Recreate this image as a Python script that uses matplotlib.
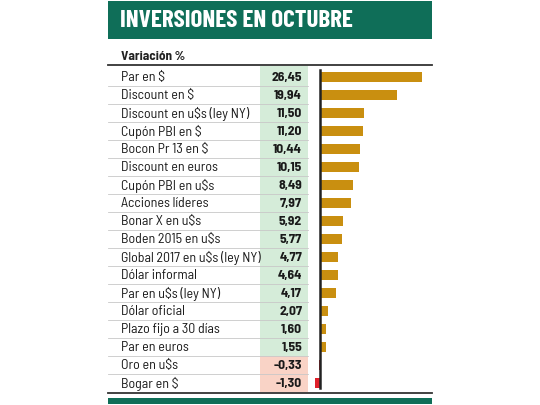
import matplotlib.pyplot as plt
import matplotlib.patches as mpatches

labels = ["Par en $", "Discount en $", "Discount en u$s (ley NY)", "Cupón PBI en $",
          "Bocon Pr 13 en $", "Discount en euros", "Cupón PBI en u$s", "Acciones líderes",
          "Bonar X en u$s", "Boden 2015 en u$s", "Global 2017 en u$s (ley NY)",
          "Dólar informal", "Par en u$s (ley NY)", "Dólar oficial", "Plazo fijo a 30 días",
          "Par en euros", "Oro en u$s", "Bogar en $"]
values = [26.45, 19.94, 11.50, 11.20, 10.44, 10.15, 8.49, 7.97, 5.92, 5.77, 4.77,
          4.64, 4.17, 2.07, 1.60, 1.55, -0.33, -1.30]

title = "INVERSIONES EN OCTUBRE"
subtitle = "Variación %"

green = "#0f6e58"
gold = "#c98f10"
red = "#e0202a"
cell_pos = "#d5ecd9"
cell_neg = "#f9d3c6"

narrow = ['Barlow Semi Condensed', 'DejaVu Sans']
narrow_bold = ['Barlow Condensed', 'DejaVu Sans']
plt.rcParams['font.family'] = narrow

W, H = 540, 405
fig = plt.figure(figsize=(5.4, 4.05), dpi=100)
fig.patch.set_facecolor("white")

# layout axes in pixel coordinates
ax = fig.add_axes([0, 0, 1, 1])
ax.set_xlim(0, W)
ax.set_ylim(H, 0)
ax.axis("off")

left, right = 108, 432
row_top, row_h = 68, 18
n = len(labels)

# header
ax.add_patch(mpatches.Rectangle((left, 1), right - left, 38, color=green, lw=0))
ax.text(120, 21, title, color="white", fontsize=18, fontweight="bold",
        family=narrow_bold, va="center", ha="left")
ax.text(121, 57, subtitle, color="#222222", fontsize=9.5, fontweight="bold",
        va="center", ha="left")
ax.plot([left, right], [64.5, 64.5], color="#333333", lw=1.3)

# value cells
for i, (lab, v) in enumerate(zip(labels, values)):
    y0 = row_top + i * row_h
    ax.add_patch(mpatches.Rectangle((260, y0 - (2 if i == 0 else 0)), 48,
                                    row_h + (2 if i == 0 else 0),
                                    color=cell_pos if v >= 0 else cell_neg, lw=0))
    ax.text(121, y0 + row_h / 2 + 0.5, lab, fontsize=10, color="#1a1a1a",
            va="center", ha="left")
    ax.text(302, y0 + row_h / 2 + 0.5, f"{v:.2f}".replace(".", ","), fontsize=9.8,
            fontweight="bold", color="#1a1a1a", va="center", ha="right")
    if i < n - 1:
        ax.plot([left, 308], [y0 + row_h, y0 + row_h], color="#c8c8c8", lw=0.6)

bottom = row_top + n * row_h
ax.plot([left, right], [bottom + 0.5, bottom + 0.5], color="#333333", lw=1.3)
ax.add_patch(mpatches.Rectangle((left, 398), right - left, 6, color=green, lw=0))

# bar axes: zero at x=320, ~3.86 px per unit
px = 3.86
bx0, bx1 = 300, 432
bax = fig.add_axes([bx0 / W, 1 - bottom / H, (bx1 - bx0) / W, (bottom - row_top) / H])
bax.set_xlim(-(320 - bx0) / px, (bx1 - 320) / px)
bax.set_ylim(n - 0.5, -0.5)
bax.axis("off")
bax.patch.set_alpha(0)
colors = [gold if v >= 0 else red for v in values]
bax.barh(range(n), values, height=0.56, color=colors, left=0)
bax.plot([0, 0], [-0.4, n - 0.7], color="#222222", lw=1.8)

fig.savefig("out.png", dpi=100)
